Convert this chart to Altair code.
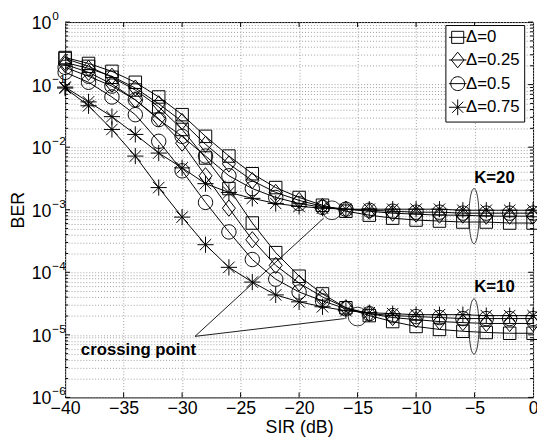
import altair as alt
import pandas as pd

FONT = "Liberation Sans"

# ---------------- data ----------------
sir = [-40, -38, -36, -34, -32, -30, -28, -26, -24, -22, -20,
       -18, -16, -14, -12, -10, -8, -6, -4, -2, 0]

delta_labels = ["Δ=0", "Δ=0.25", "Δ=0.5", "Δ=0.75"]

# K = 20
k20_d000 = [0.271, 0.218, 0.163, 0.109, 0.0635, 0.0331, 0.0149, 0.00721, 0.00376, 0.00226, 0.00157,
            0.00118, 0.000947, 0.000819, 0.000734, 0.000684, 0.000659, 0.000636, 0.000636, 0.000613, 0.000613]
k20_d025 = [0.226, 0.182, 0.136, 0.0881, 0.0493, 0.0257, 0.0111, 0.00540, 0.00292, 0.00189, 0.00141,
            0.00113, 0.00102, 0.000947, 0.000881, 0.000849, 0.000819, 0.000819, 0.000790, 0.000790, 0.000790]
k20_d050 = [0.189, 0.136, 0.0947, 0.0570, 0.0276, 0.0149, 0.00721, 0.00349, 0.00218, 0.00157, 0.00126,
            0.00109, 0.00102, 0.000982, 0.000947, 0.000914, 0.000914, 0.000881, 0.000881, 0.000881, 0.000881]
k20_d075 = [0.0914, 0.0530, 0.0308, 0.0160, 0.00805, 0.00467, 0.00261, 0.00189, 0.00152, 0.00126, 0.00113,
            0.00106, 0.00102, 0.00102, 0.00102, 0.00102, 0.00102, 0.000982, 0.000982, 0.000982, 0.000982]

# K = 10
k10_d000 = [0.261, 0.196, 0.131, 0.0819, 0.0442, 0.0192, 0.00671, 0.00218, 0.000613, 0.000206, 8.65e-5,
            4.51e-5, 2.71e-5, 2.03e-5, 1.63e-5, 1.36e-5, 1.22e-5, 1.14e-5, 1.09e-5, 1.06e-5, 1.06e-5]
k10_d025 = [0.210, 0.157, 0.102, 0.0570, 0.0286, 0.0116, 0.00349, 0.00106, 0.000331, 0.000129, 6.72e-5,
            4.04e-5, 2.71e-5, 2.18e-5, 1.89e-5, 1.75e-5, 1.63e-5, 1.57e-5, 1.52e-5, 1.52e-5, 1.52e-5]
k10_d050 = [0.157, 0.109, 0.0635, 0.0331, 0.0124, 0.00419, 0.00131, 0.000442, 0.000160, 7.76e-5, 4.84e-5,
            3.49e-5, 2.61e-5, 2.18e-5, 2.03e-5, 1.96e-5, 1.89e-5, 1.82e-5, 1.82e-5, 1.82e-5, 1.82e-5]
k10_d075 = [0.0881, 0.0459, 0.0192, 0.00721, 0.00226, 0.000762, 0.000276, 0.000120, 6.97e-5, 4.35e-5, 3.37e-5,
            2.81e-5, 2.43e-5, 2.26e-5, 2.18e-5, 2.10e-5, 2.10e-5, 2.10e-5, 2.03e-5, 2.03e-5, 2.03e-5]

x_tick_values = [-40, -35, -30, -25, -20, -15, -10, -5, 0]
x_inner_ticks = [-35, -30, -25, -20, -15, -10, -5]
y_decades = [1, 1e-1, 1e-2, 1e-3, 1e-4, 1e-5, 1e-6]
y_exponents = ["0", "\u22121", "\u22122", "\u22123", "\u22124", "\u22125", "\u22126"]
y_minor = [m * d for d in [1e-6, 1e-5, 1e-4, 1e-3, 1e-2, 1e-1] for m in range(2, 10)]
y_grid = sorted(y_decades + y_minor)

# annotations
note_text = ["crossing point", "K=20", "K=10"]
note_x = [-28.8, -3.3, -3.3]
note_y = [5.7e-6, 3.25e-3, 5.8e-5]
ellipse_x = [-5.05, -5.05]
ellipse_y = [7.9e-4, 1.36e-5]
cross_x = [-17.2, -15.0]
cross_y = [9.8e-4, 1.96e-5]
arrow_x0 = [-28.9, -28.9]
arrow_y0 = [9.46e-6, 9.46e-6]
arrow_x1 = [-17.9, -16.1]
arrow_y1 = [7.34e-4, 1.82e-5]

# ---------------- build tables ----------------
rows = []
for K, series in [("K=20", [k20_d000, k20_d025, k20_d050, k20_d075]),
                  ("K=10", [k10_d000, k10_d025, k10_d050, k10_d075])]:
    for lab, vals in zip(delta_labels, series):
        for xv, v in zip(sir, vals):
            rows.append({"sir": xv, "ber": v, "delta": lab, "curve": K + lab})
df = pd.DataFrame(rows)

marker_paths = [
    "M-1,-1H1V1H-1Z",
    "M0,-1.3L1.05,0L0,1.3L-1.05,0Z",
    "M1.15,0A1.15,1.15,0,1,1,-1.15,0A1.15,1.15,0,1,1,1.15,0Z",
    "M0,-1.3V1.3M-1.3,0H1.3M-0.92,-0.92L0.92,0.92M-0.92,0.92L0.92,-0.92",
]
legend_paths = [
    "M-1,-1H1V1H-1ZM-1.45,0H1.45",
    "M0,-1.3L1.05,0L0,1.3L-1.05,0ZM-1.45,0H1.45",
    "M1.15,0A1.15,1.15,0,1,1,-1.15,0A1.15,1.15,0,1,1,1.15,0ZM-1.45,0H1.45",
    "M0,-1.3V1.3M-1.45,0H1.45M-0.92,-0.92L0.92,0.92M-0.92,0.92L0.92,-0.92",
]

W, H = 475, 381

xscale = alt.Scale(domain=[-40, 0], nice=False, zero=False)
yscale = alt.Scale(type="log", domain=[1e-6, 1], nice=False)

grid_color = "#a0a0a0"
xaxis = alt.Axis(values=x_tick_values, format="d", title="SIR (dB)", grid=True, gridDash=[1, 2],
                 gridColor=grid_color, gridWidth=1, ticks=False, domain=False,
                 labelFont=FONT, labelFontSize=18, labelColor="black", labelPadding=2,
                 labelFlush=False, labelOverlap=False,
                 titleFont=FONT, titleFontSize=18, titleFontWeight="normal", titleColor="black",
                 titlePadding=2)
yaxis = alt.Axis(values=y_grid, labels=False, ticks=False, domain=False, grid=True, gridDash=[1, 2],
                 gridColor=grid_color, gridWidth=1, title="BER",
                 titleFont=FONT, titleFontSize=18, titleFontWeight="normal", titleColor="black",
                 titlePadding=38)

X = lambda f="sir": alt.X(f + ":Q", scale=xscale, axis=xaxis)
Y = lambda f="ber": alt.Y(f + ":Q", scale=yscale, axis=yaxis)

lines = alt.Chart(df).mark_line(color="black", strokeWidth=1).encode(
    x=X(), y=Y(), detail="curve:N", order="sir:Q")

points = alt.Chart(df).mark_point(filled=False, color="black", strokeWidth=1, size=160, opacity=1).encode(
    x=X(), y=Y(),
    shape=alt.Shape("delta:N", scale=alt.Scale(domain=delta_labels, range=marker_paths), legend=None))

legend_layer = alt.Chart(df).transform_filter("false").mark_point(
    filled=False, color="black", strokeWidth=1, size=160, opacity=1).encode(
    x=X(), y=Y(),
    shape=alt.Shape("delta:N", scale=alt.Scale(domain=delta_labels, range=legend_paths),
                    legend=alt.Legend(title=None, orient="none", legendX=386, legendY=3,
                                      direction="vertical", labelFont=FONT, labelFontSize=17,
                                      labelFontWeight="normal",
                                      labelColor="black", symbolSize=150, symbolStrokeColor="black",
                                      symbolFillColor="transparent", symbolStrokeWidth=1,
                                      strokeColor="black", fillColor="white", padding=4,
                                      rowPadding=4, labelOffset=0, cornerRadius=0)))

# inward ticks
xt = pd.DataFrame({"sir": x_inner_ticks})
xt_bot = alt.Chart(xt).mark_rule(color="black", strokeWidth=1).encode(x=X(), y=alt.value(H), y2=alt.value(H - 5))
xt_top = alt.Chart(xt).mark_rule(color="black", strokeWidth=1).encode(x=X(), y=alt.value(0), y2=alt.value(5))
ytmaj = pd.DataFrame({"ber": y_decades})
ytmin = pd.DataFrame({"ber": y_minor})
yt_l = alt.Chart(ytmaj).mark_rule(color="black", strokeWidth=1).encode(y=Y(), x=alt.value(0), x2=alt.value(5))
yt_r = alt.Chart(ytmaj).mark_rule(color="black", strokeWidth=1).encode(y=Y(), x=alt.value(W), x2=alt.value(W - 5))
ytm_l = alt.Chart(ytmin).mark_rule(color="black", strokeWidth=1).encode(y=Y(), x=alt.value(0), x2=alt.value(3))
ytm_r = alt.Chart(ytmin).mark_rule(color="black", strokeWidth=1).encode(y=Y(), x=alt.value(W), x2=alt.value(W - 3))

# y tick labels (10 with superscript exponent)
ylab = pd.DataFrame({"ber": y_decades, "exp": y_exponents})
ylab_base = alt.Chart(ylab).mark_text(text="10", align="right", baseline="middle", dy=2,
                                      font=FONT, fontSize=18, color="black").encode(
    y=Y(), x=alt.value(-14))
ylab_exp = alt.Chart(ylab).mark_text(align="left", baseline="middle", dy=-6,
                                     font=FONT, fontSize=12, color="black").encode(
    y=Y(), x=alt.value(-13), text="exp:N")

# annotations
notes = pd.DataFrame({"sir": note_x, "ber": note_y, "t": note_text})
note_cross = alt.Chart(notes.iloc[:1]).mark_text(align="right", baseline="middle", font=FONT,
                                                 fontSize=17, fontWeight="bold", color="black").encode(
    x=X(), y=Y(), text="t:N")
note_k = alt.Chart(notes.iloc[1:]).mark_text(align="center", baseline="middle", font=FONT,
                                             fontSize=17, fontWeight="bold", color="black").encode(
    x=X(), y=Y(), text="t:N")

ell = pd.DataFrame({"sir": ellipse_x, "ber": ellipse_y})
ellipses = alt.Chart(ell).mark_point(
    shape="M0,-1A0.18,1,0,1,1,0,1A0.18,1,0,1,1,0,-1Z", size=3136, filled=False,
    color="black", strokeWidth=0.8, opacity=1).encode(x=X(), y=Y())

cr = pd.DataFrame({"sir": cross_x, "ber": cross_y})
crosses = alt.Chart(cr).mark_point(shape="circle", size=361, filled=False, color="black",
                                   strokeWidth=0.8, opacity=1).encode(x=X(), y=Y())

arr = pd.DataFrame({"sir": arrow_x0, "ber": arrow_y0, "sir2": arrow_x1, "ber2": arrow_y1})
arrows = alt.Chart(arr).mark_rule(color="black", strokeWidth=0.9).encode(
    x=X(), y=Y(), x2="sir2:Q", y2="ber2:Q")

chart = alt.layer(
    lines, points, legend_layer,
    xt_bot, xt_top, yt_l, yt_r, ytm_l, ytm_r,
    ylab_base, ylab_exp,
    arrows, crosses, ellipses, note_cross, note_k,
).resolve_scale(shape="independent").properties(
    width=W, height=H,
    padding={"left": 58, "top": 11, "right": 4, "bottom": 42},
    autosize=alt.AutoSizeParams(type="none"),
    background="white",
).configure_view(stroke="black", strokeWidth=1)

chart.save("out.html", embed_options={"renderer": "svg", "actions": False})
